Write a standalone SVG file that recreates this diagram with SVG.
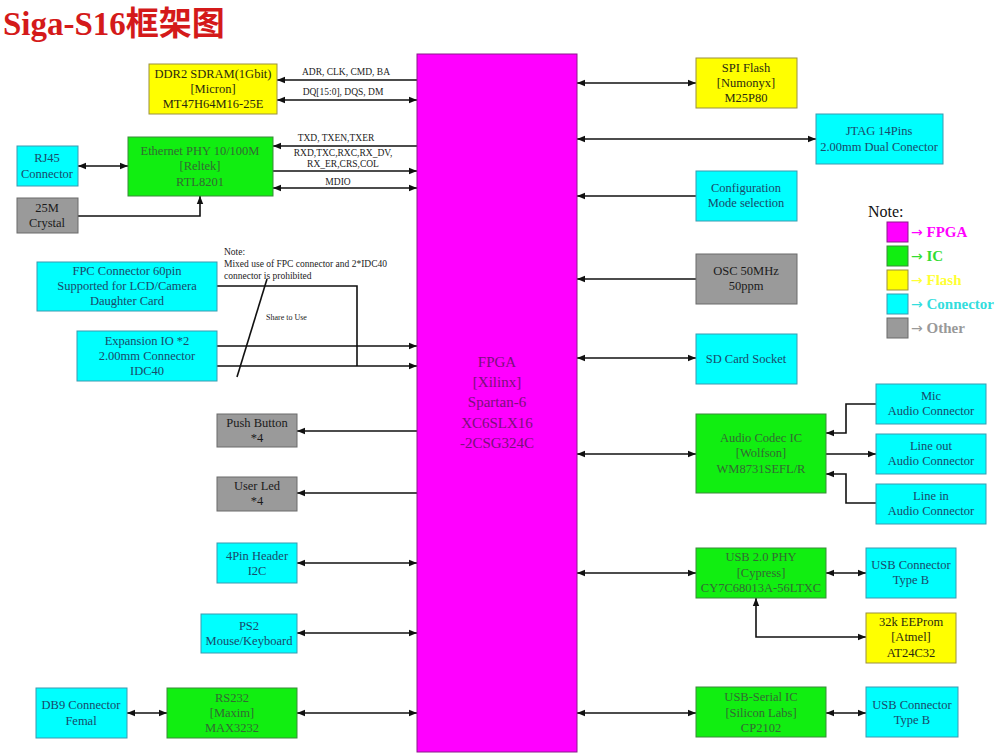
<svg xmlns="http://www.w3.org/2000/svg" width="1000" height="754" viewBox="0 0 1000 754">
<defs>
<marker id="ah" viewBox="0 0 10 10" refX="10" refY="5" markerWidth="9" markerHeight="8" markerUnits="userSpaceOnUse" orient="auto-start-reverse"><path d="M0,1 L10,5 L0,9 z" fill="#111"/></marker>
<style>
text{font-family:"Liberation Serif","Times New Roman",serif;text-anchor:middle}
.t{font-size:12.5px}
.lab{font-size:9.5px;fill:#222}
.fpga{fill:#ff00ff;stroke:#8a1a8a;stroke-width:1}
.ic{fill:#11ee11;stroke:#3a8a3a;stroke-width:1}
.fl{fill:#ffff00;stroke:#9a9040;stroke-width:1}
.cn{fill:#00ffff;stroke:#3a9ab0;stroke-width:1}
.ot{fill:#9a9a9a;stroke:#6a6a6a;stroke-width:1}
.ict{fill:#336a33}
.flt{fill:#2a2a10}
.cnt{fill:#1a4a6a}
.ott{fill:#1a1a1a}
.c line,.c path{stroke:#111;stroke-width:1.6;fill:none}
.b{marker-start:url(#ah);marker-end:url(#ah)}
.e{marker-end:url(#ah)}
.leg{font-size:15px;font-weight:bold;text-anchor:start}
.ar{font-family:"DejaVu Sans",sans-serif;font-weight:normal;font-size:14px}
</style>
</defs>
<rect width="1000" height="754" fill="#fff"/>
<text x="3" y="35" style="font-size:33px;font-weight:bold;fill:#d41a1a;text-anchor:start;font-family:'Liberation Serif','Noto Sans CJK SC',serif">Siga-S16框架图</text>

<g class="c" id="connectors">
<path class="e" d="M417,80 H277"/>
<path class="b" d="M277,100 H417"/>
<path class="e" d="M417,146 H273"/>
<path class="e" d="M273,171 H417"/>
<path class="b" d="M273,188 H417"/>
<path class="b" d="M78,166 H128"/>
<path class="e" d="M78,216 H200 V196"/>
<path d="M217,286 H357 V366"/>
<path class="e" d="M217,346 H417"/>
<path class="e" d="M217,366 H417"/>
<path d="M267,279 L237,377"/>
<path class="e" d="M417,431 H297"/>
<path class="e" d="M417,493 H297"/>
<path class="b" d="M297,563 H417"/>
<path class="b" d="M297,633 H417"/>
<path class="b" d="M127,713 H167"/>
<path class="b" d="M297,713 H417"/>
<path class="b" d="M577,83 H696"/>
<path class="b" d="M577,139 H816"/>
<path class="e" d="M696,196 H577"/>
<path class="e" d="M696,279 H577"/>
<path class="b" d="M577,358 H696"/>
<path class="b" d="M577,454 H696"/>
<path class="e" d="M876,404 H846 V433 H826"/>
<path class="e" d="M826,454 H876"/>
<path class="e" d="M876,503 H846 V474 H826"/>
<path class="b" d="M577,573 H696"/>
<path class="b" d="M826,573 H866"/>
<path class="b" d="M866,637 H756 V598"/>
<path class="b" d="M577,713 H696"/>
<path class="b" d="M826,713 H866"/>
</g>

<g id="labels">
<text class="lab" x="346" y="75">ADR, CLK, CMD, BA</text>
<text class="lab" x="343" y="95">DQ[15:0], DQS, DM</text>
<text class="lab" x="336" y="141">TXD, TXEN,TXER</text>
<text class="lab" x="343" y="156">RXD,TXC,RXC,RX_DV,</text>
<text class="lab" x="343" y="167">RX_ER,CRS,COL</text>
<text class="lab" x="338" y="185">MDIO</text>
<text style="font-size:9.5px;text-anchor:start;fill:#222" x="224" y="255">Note:</text>
<text style="font-size:9.5px;text-anchor:start;fill:#222" x="224" y="267">Mixed use of FPC connector and 2*IDC40</text>
<text style="font-size:9.5px;text-anchor:start;fill:#222" x="224" y="279">connector is prohibited</text>
<text style="font-size:8px;text-anchor:start;fill:#222" x="266" y="320">Share to Use</text>
</g>

<g id="fpga"><rect class="fpga" x="417" y="54" width="160" height="698"/>
<g style="font-size:15px;fill:#7a107a"><text x="497" y="367">FPGA</text><text x="497" y="387">[Xilinx]</text><text x="497" y="407">Spartan-6</text><text x="497" y="428">XC6SLX16</text><text x="497" y="448">-2CSG324C</text></g></g>

<g id="ddr2"><rect class="fl" x="149" y="64" width="128" height="50"/><g class="t flt"><text x="213" y="78">DDR2 SDRAM(1Gbit)</text><text x="213" y="93">[Micron]</text><text x="213" y="108">MT47H64M16-25E</text></g></g>
<g id="eth"><rect class="ic" x="128" y="137" width="145" height="59"/><g class="t ict"><text x="200" y="155">Ethernet PHY 10/100M</text><text x="200" y="170">[Reltek]</text><text x="200" y="186">RTL8201</text></g></g>
<g id="rj45"><rect class="cn" x="17" y="146" width="61" height="40"/><g class="t cnt"><text x="47" y="162">RJ45</text><text x="47" y="178">Connector</text></g></g>
<g id="crystal"><rect class="ot" x="17" y="198" width="61" height="35"/><g class="t ott"><text x="47" y="212">25M</text><text x="47" y="227">Crystal</text></g></g>
<g id="fpc"><rect class="cn" x="37" y="262" width="180" height="49"/><g class="t cnt"><text x="127" y="275">FPC Connector 60pin</text><text x="127" y="290">Supported for LCD/Camera</text><text x="127" y="305">Daughter Card</text></g></g>
<g id="expio"><rect class="cn" x="77" y="331" width="140" height="50"/><g class="t cnt"><text x="147" y="345">Expansion IO *2</text><text x="147" y="360">2.00mm Connector</text><text x="147" y="375">IDC40</text></g></g>
<g id="pushbtn"><rect class="ot" x="217" y="414" width="80" height="33"/><g class="t ott"><text x="257" y="427">Push Button</text><text x="257" y="442">*4</text></g></g>
<g id="userled"><rect class="ot" x="217" y="477" width="80" height="34"/><g class="t ott"><text x="257" y="490">User Led</text><text x="257" y="505">*4</text></g></g>
<g id="i2c"><rect class="cn" x="217" y="543" width="80" height="40"/><g class="t cnt"><text x="257" y="560">4Pin Header</text><text x="257" y="575">I2C</text></g></g>
<g id="ps2"><rect class="cn" x="201" y="614" width="96" height="39"/><g class="t cnt"><text x="249" y="630">PS2</text><text x="249" y="645">Mouse/Keyboard</text></g></g>
<g id="db9"><rect class="cn" x="36" y="688" width="91" height="50"/><g class="t cnt"><text x="81" y="709">DB9 Connector</text><text x="81" y="725">Femal</text></g></g>
<g id="rs232"><rect class="ic" x="167" y="688" width="130" height="50"/><g class="t ict"><text x="232" y="702">RS232</text><text x="232" y="717">[Maxim]</text><text x="232" y="732">MAX3232</text></g></g>

<g id="spi"><rect class="fl" x="696" y="58" width="101" height="50"/><g class="t flt"><text x="746" y="72">SPI Flash</text><text x="746" y="87">[Numonyx]</text><text x="746" y="102">M25P80</text></g></g>
<g id="jtag"><rect class="cn" x="816" y="114" width="127" height="50"/><g class="t cnt"><text x="879" y="135">JTAG 14Pins</text><text x="879" y="151">2.00mm Dual Conector</text></g></g>
<g id="config"><rect class="cn" x="696" y="171" width="101" height="50"/><g class="t cnt"><text x="746" y="192">Configuration</text><text x="746" y="207">Mode selection</text></g></g>
<g id="osc"><rect class="ot" x="696" y="254" width="101" height="50"/><g class="t ott"><text x="746" y="275">OSC 50MHz</text><text x="746" y="290">50ppm</text></g></g>
<g id="sd"><rect class="cn" x="696" y="334" width="101" height="50"/><g class="t cnt"><text x="746" y="363">SD Card Socket</text></g></g>
<g id="audio"><rect class="ic" x="696" y="414" width="130" height="79"/><g class="t ict"><text x="761" y="442">Audio Codec IC</text><text x="761" y="457">[Wolfson]</text><text x="761" y="473">WM8731SEFL/R</text></g></g>
<g id="mic"><rect class="cn" x="876" y="384" width="110" height="40"/><g class="t cnt"><text x="931" y="400">Mic</text><text x="931" y="415">Audio Connector</text></g></g>
<g id="lineout"><rect class="cn" x="876" y="434" width="110" height="40"/><g class="t cnt"><text x="931" y="450">Line out</text><text x="931" y="465">Audio Connector</text></g></g>
<g id="linein"><rect class="cn" x="876" y="484" width="110" height="40"/><g class="t cnt"><text x="931" y="500">Line in</text><text x="931" y="515">Audio Connector</text></g></g>
<g id="usbphy"><rect class="ic" x="696" y="548" width="130" height="50"/><g class="t ict"><text x="761" y="561">USB 2.0 PHY</text><text x="761" y="577">[Cypress]</text><text x="761" y="592">CY7C68013A-56LTXC</text></g></g>
<g id="usbconn1"><rect class="cn" x="866" y="548" width="90" height="50"/><g class="t cnt"><text x="911" y="569">USB Connector</text><text x="911" y="584">Type B</text></g></g>
<g id="eeprom"><rect class="fl" x="866" y="613" width="90" height="50"/><g class="t flt"><text x="911" y="626">32k EEProm</text><text x="911" y="641">[Atmel]</text><text x="911" y="657">AT24C32</text></g></g>
<g id="usbserial"><rect class="ic" x="696" y="687" width="130" height="50"/><g class="t ict"><text x="761" y="701">USB-Serial IC</text><text x="761" y="717">[Silicon Labs]</text><text x="761" y="732">CP2102</text></g></g>
<g id="usbconn2"><rect class="cn" x="866" y="687" width="92" height="50"/><g class="t cnt"><text x="912" y="709">USB Connector</text><text x="912" y="724">Type B</text></g></g>

<g id="legend">
<text x="868" y="217" style="font-size:16px;text-anchor:start;fill:#111">Note:</text>
<rect class="fpga" x="887" y="222" width="21" height="20"/>
<rect class="ic" x="887" y="246" width="21" height="20"/>
<rect class="fl" x="887" y="270" width="21" height="20"/>
<rect class="cn" x="887" y="294" width="21" height="20"/>
<rect class="ot" x="887" y="318" width="21" height="20"/>
<text class="leg" x="911" y="237" fill="#ff00ff"><tspan class="ar">→</tspan> FPGA</text>
<text class="leg" x="911" y="261" fill="#33dd33"><tspan class="ar">→</tspan> IC</text>
<text class="leg" x="911" y="285" fill="#ffff33"><tspan class="ar">→</tspan> Flash</text>
<text class="leg" x="911" y="309" fill="#33dddd"><tspan class="ar">→</tspan> Connector</text>
<text class="leg" x="911" y="333" fill="#999999"><tspan class="ar">→</tspan> Other</text>
</g>
</svg>
